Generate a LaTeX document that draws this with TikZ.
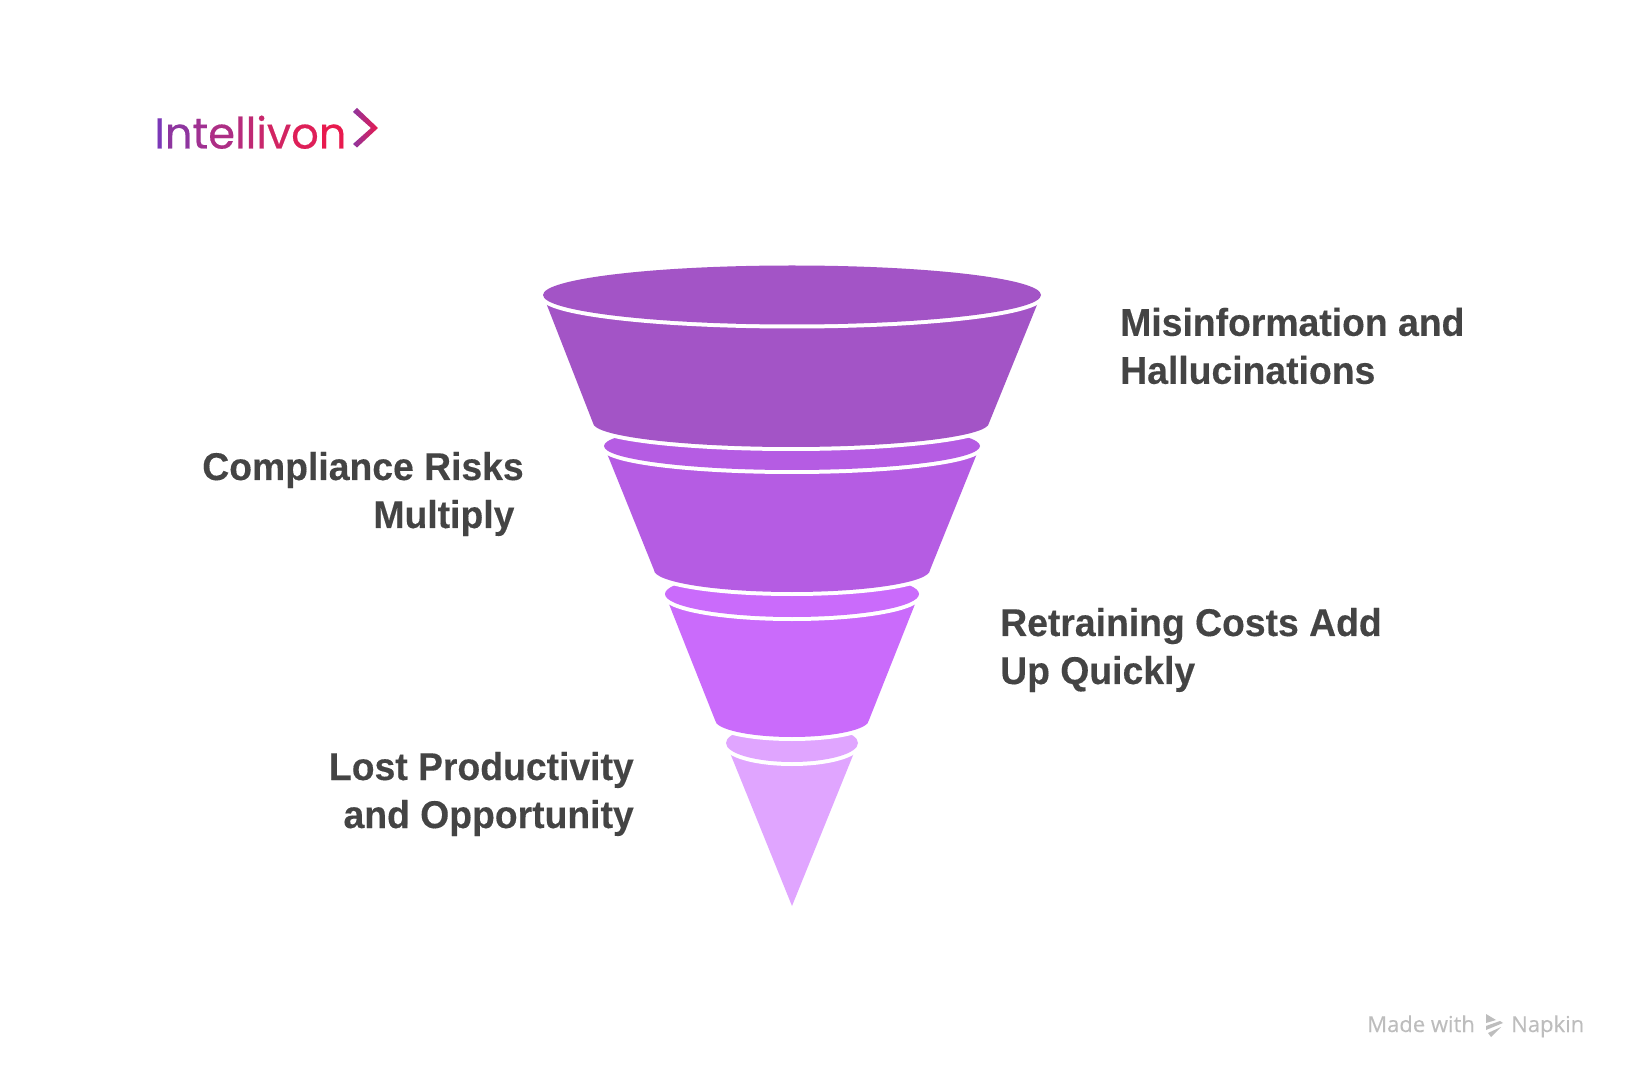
\documentclass[tikz,border=0pt]{standalone}
\usepackage{fontspec}
\setmainfont{Liberation Sans}
\newfontfamily\labelfont[FakeStretch=0.965,BoldFeatures={FakeBold=0.3}]{Liberation Sans}
\newfontfamily\logofont[UprightFeatures={FakeBold=0.4}]{Poppins}
\newfontfamily\markfont[UprightFeatures={FakeBold=0.2}]{Open Sans}
\usetikzlibrary{positioning}
\definecolor{sliceA}{HTML}{A354C6}
\definecolor{sliceB}{HTML}{B55CE3}
\definecolor{sliceC}{HTML}{CA6BFB}
\definecolor{sliceD}{HTML}{E0A5FF}
\definecolor{labelgrey}{HTML}{444444}
\definecolor{markgrey}{HTML}{BDBDBD}
\definecolor{logoA}{HTML}{7B38B8}
\definecolor{logoB}{HTML}{8E359F}
\definecolor{logoC}{HTML}{A03192}
\definecolor{logoD}{HTML}{AD2E85}
\definecolor{logoE}{HTML}{B72C7C}
\definecolor{logoF}{HTML}{BF2A74}
\definecolor{logoG}{HTML}{C8276C}
\definecolor{logoH}{HTML}{D22462}
\definecolor{logoI}{HTML}{DE1F58}
\definecolor{logoJ}{HTML}{E81A4E}
\begin{document}
\begin{tikzpicture}[x=0.75pt,y=-0.75pt]
    \tikzset{slice/.style={fill=#1, preaction={draw=white, line width=6pt}},
             sidelabel/.style={inner sep=0pt, text=labelgrey, font=\labelfont\bfseries\fontsize{29}{36}\selectfont},
             madewith/.style={inner sep=0pt, text=markgrey, font=\markfont\fontsize{16.5}{20}\selectfont}}
    \useasboundingbox (0,0) rectangle (1632,1080);
    \fill[white] (0,0) rectangle (1632,1080);
    % funnel, from the tip upwards
    \path[slice=sliceD] (726,743) -- (792,906) -- (858,743) -- cycle;
    \path[slice=sliceD] (792,743) ellipse [x radius=66, y radius=19];
    \path[slice=sliceC] (665,594) -- (715,720) arc [start angle=180, end angle=360, x radius=77, y radius=-17] -- (919,594) -- cycle;
    \path[slice=sliceC] (792,594) ellipse [x radius=127, y radius=23];
    \path[slice=sliceB] (604,446) -- (654,570) arc [start angle=180, end angle=360, x radius=138, y radius=-22] -- (980,446) -- cycle;
    \path[slice=sliceB] (792,446) ellipse [x radius=188, y radius=24];
    \path[slice=sliceA] (543,295) -- (593,423) arc [start angle=180, end angle=360, x radius=198, y radius=-24] -- (1041,295) -- cycle;
    \path[slice=sliceA] (792,295) ellipse [x radius=249, y radius=29.5];
    % labels
    \node[sidelabel, anchor=west, align=left] (misinformation) at (1120,346) {Misinformation and\\Hallucinations};
    \node[sidelabel, anchor=east, align=right] (compliance) at (524,494) {Compliance Risks\\Multiply\hspace*{7pt}};
    \node[sidelabel, anchor=west, align=left] (retraining) at (1000,650) {Retraining Costs Add\\Up Quickly};
    \node[sidelabel, anchor=east, align=right] (productivity) at (634,794) {Lost Productivity\\and Opportunity};
    % logo
    \node[inner sep=0pt, anchor=base west, font=\logofont\fontsize{32.4}{36}\selectfont] (logo) at (154,148.5)
        {\textcolor{logoA}{I}\textcolor{logoB}{n}\textcolor{logoC}{t}\textcolor{logoD}{e}\textcolor{logoE}{l}\textcolor{logoF}{l}\textcolor{logoG}{i}\textcolor{logoH}{v}\textcolor{logoI}{o}\textcolor{logoJ}{n}};
    \shade[left color=logoB, right color=logoJ] (353,112) -- (357,108) -- (378,128) -- (357,147.5) -- (353,144) -- (371,128) -- cycle;
    % footer mark
    \node[madewith, anchor=base west] (made) at (1367,1032) {Made with};
    \node[madewith, anchor=base west] (napkin) at (1511,1032) {Napkin};
    \fill[markgrey] (1486,1014) -- (1496,1020) -- (1486,1023) -- cycle;
    \fill[markgrey] (1486,1026) -- (1500,1021) -- (1503,1023) -- (1486,1030) -- cycle;
    \fill[markgrey] (1488,1033) -- (1501,1027) -- (1491,1037) -- cycle;
\end{tikzpicture}
\end{document}
